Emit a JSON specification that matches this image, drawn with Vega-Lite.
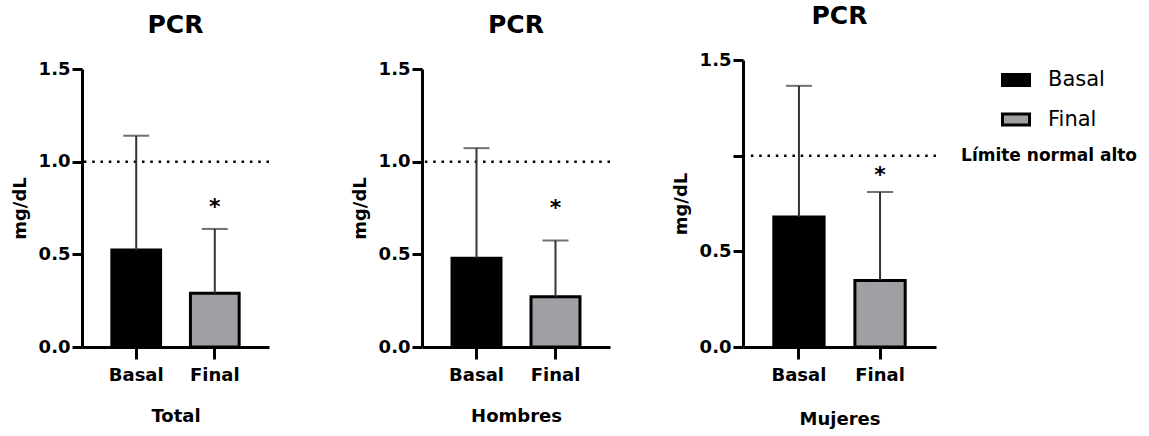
{
  "$schema": "https://vega.github.io/schema/vega-lite/v6.json",
  "background": "white",
  "padding": {"left": 11, "top": 4, "right": 5, "bottom": 3},
  "config": {
    "font": "DejaVu Sans",
    "view": {"stroke": null},
    "axis": {
      "domainColor": "black", "domainWidth": 3,
      "tickColor": "black", "tickWidth": 3,
      "labelColor": "black", "labelFontSize": 18, "labelFontWeight": "bold",
      "titleColor": "black", "titleFontSize": 18, "titleFontWeight": "bold",
      "grid": false
    },
    "title": {"fontSize": 25, "fontWeight": "bold", "color": "black", "baseline": "alphabetic"}
  },
  "datasets": {
    "barras": [
      {"grupo": "Total", "cond": "Basal", "media": 0.523, "sup": 1.14},
      {"grupo": "Total", "cond": "Final", "media": 0.29, "sup": 0.637},
      {"grupo": "Hombres", "cond": "Basal", "media": 0.479, "sup": 1.073},
      {"grupo": "Hombres", "cond": "Final", "media": 0.271, "sup": 0.575},
      {"grupo": "Mujeres", "cond": "Basal", "media": 0.68, "sup": 1.365},
      {"grupo": "Mujeres", "cond": "Final", "media": 0.348, "sup": 0.81}
    ],
    "sig": [
      {"grupo": "Total", "cond": "Final", "marca": "*", "pos": 0.785},
      {"grupo": "Hombres", "cond": "Final", "marca": "*", "pos": 0.776},
      {"grupo": "Mujeres", "cond": "Final", "marca": "*", "pos": 0.925}
    ],
    "limite": [
      {"valor": 1.0, "etiqueta": "Límite normal alto"}
    ]
  },
  "bounds": "flush",
  "spacing": 153,
  "resolve": {"scale": {"color": "shared"}, "legend": {"color": "shared"}},
  "hconcat": [
    {
      "width": 187, "height": 287,
      "title": {"text": "PCR", "offset": 22},
      "layer": [
        {
          "data": {"name": "limite"},
          "mark": {"type": "rule", "color": "black", "strokeWidth": 2.5, "strokeDash": [2.5, 5.8]},
          "encoding": {"y": {"field": "valor", "type": "quantitative", "scale": {"domain": [0, 1.5], "range": [287, 9], "nice": false}}}
        },
        {
          "data": {"name": "barras"},
          "transform": [{"filter": "datum.grupo == 'Total'"}],
          "mark": {"type": "bar", "stroke": "black", "strokeWidth": 3},
          "encoding": {
            "x": {"field": "cond", "type": "nominal", "sort": ["Basal", "Final"], "scale": {"padding": 0.38},
                  "axis": {"title": "Total", "labelAngle": 0, "tickSize": 12, "labelPadding": 7, "titlePadding": 23}},
            "y": {"field": "media", "type": "quantitative", "scale": {"domain": [0, 1.5], "range": [287, 9], "nice": false},
                  "axis": {"title": "mg/dL", "values": [0, 0.5, 1, 1.5], "format": ".1f", "tickSize": 10, "labelPadding": 2, "titlePadding": 9}},
            "color": {"field": "cond", "type": "nominal",
                      "scale": {"domain": ["Basal", "Final"], "range": ["#000000", "#a0a0a4"]},
                      "legend": {"title": null, "orient": "none", "legendX": 919, "legendY": 5, "padding": 0,
                                 "symbolType": "M-1,-0.4H1V0.4H-1Z", "symbolSize": 729,
                                 "symbolStrokeColor": "black", "symbolStrokeWidth": 3, "symbolOpacity": 1,
                                 "labelFontSize": 21, "labelFontWeight": "normal", "labelColor": "black",
                                 "labelOffset": 17, "rowPadding": 12.5}}
          }
        },
        {
          "data": {"name": "barras"},
          "transform": [{"filter": "datum.grupo == 'Total'"}],
          "mark": {"type": "rule", "color": "#333333", "strokeWidth": 2},
          "encoding": {
            "x": {"field": "cond", "type": "nominal", "sort": ["Basal", "Final"]},
            "y": {"field": "media", "type": "quantitative"},
            "y2": {"field": "sup"}
          }
        },
        {
          "data": {"name": "barras"},
          "transform": [{"filter": "datum.grupo == 'Total'"}],
          "mark": {"type": "tick", "orient": "horizontal", "color": "#333333", "thickness": 2, "size": 26},
          "encoding": {
            "x": {"field": "cond", "type": "nominal", "sort": ["Basal", "Final"]},
            "y": {"field": "sup", "type": "quantitative"}
          }
        },
        {
          "data": {"name": "sig"},
          "transform": [{"filter": "datum.grupo == 'Total'"}],
          "mark": {"type": "text", "fontSize": 22, "fontWeight": "bold", "color": "black", "baseline": "alphabetic", "dy": 12},
          "encoding": {
            "x": {"field": "cond", "type": "nominal", "sort": ["Basal", "Final"]},
            "y": {"field": "pos", "type": "quantitative"},
            "text": {"field": "marca"}
          }
        }
      ]
    },
    {
      "bounds": "flush",
      "spacing": 133,
      "resolve": {"scale": {"color": "shared"}, "legend": {"color": "shared"}},
      "hconcat": [
        {
          "width": 188, "height": 287,
          "title": {"text": "PCR", "offset": 22},
          "layer": [
            {
              "data": {"name": "limite"},
              "mark": {"type": "rule", "color": "black", "strokeWidth": 2.5, "strokeDash": [2.5, 5.8]},
              "encoding": {"y": {"field": "valor", "type": "quantitative", "scale": {"domain": [0, 1.5], "range": [287, 9], "nice": false}}}
            },
            {
              "data": {"name": "barras"},
              "transform": [{"filter": "datum.grupo == 'Hombres'"}],
              "mark": {"type": "bar", "stroke": "black", "strokeWidth": 3},
              "encoding": {
                "x": {"field": "cond", "type": "nominal", "sort": ["Basal", "Final"], "scale": {"padding": 0.38},
                      "axis": {"title": "Hombres", "labelAngle": 0, "tickSize": 12, "labelPadding": 7, "titlePadding": 23}},
                "y": {"field": "media", "type": "quantitative", "scale": {"domain": [0, 1.5], "range": [287, 9], "nice": false},
                      "axis": {"title": "mg/dL", "values": [0, 0.5, 1, 1.5], "format": ".1f", "tickSize": 10, "labelPadding": 2, "titlePadding": 9}},
                "color": {"field": "cond", "type": "nominal",
                          "scale": {"domain": ["Basal", "Final"], "range": ["#000000", "#a0a0a4"]}}
              }
            },
            {
              "data": {"name": "barras"},
              "transform": [{"filter": "datum.grupo == 'Hombres'"}],
              "mark": {"type": "rule", "color": "#333333", "strokeWidth": 2},
              "encoding": {
                "x": {"field": "cond", "type": "nominal", "sort": ["Basal", "Final"]},
                "y": {"field": "media", "type": "quantitative"},
                "y2": {"field": "sup"}
              }
            },
            {
              "data": {"name": "barras"},
              "transform": [{"filter": "datum.grupo == 'Hombres'"}],
              "mark": {"type": "tick", "orient": "horizontal", "color": "#333333", "thickness": 2, "size": 26},
              "encoding": {
                "x": {"field": "cond", "type": "nominal", "sort": ["Basal", "Final"]},
                "y": {"field": "sup", "type": "quantitative"}
              }
            },
            {
              "data": {"name": "sig"},
              "transform": [{"filter": "datum.grupo == 'Hombres'"}],
              "mark": {"type": "text", "fontSize": 22, "fontWeight": "bold", "color": "black", "baseline": "alphabetic", "dy": 12},
              "encoding": {
                "x": {"field": "cond", "type": "nominal", "sort": ["Basal", "Final"]},
                "y": {"field": "pos", "type": "quantitative"},
                "text": {"field": "marca"}
              }
            }
          ]
        },
        {
          "width": 193, "height": 287,
          "title": {"text": "PCR", "offset": 22},
          "layer": [
            {
              "data": {"name": "limite"},
              "mark": {"type": "rule", "color": "black", "strokeWidth": 2.5, "strokeDash": [2.5, 5.8]},
              "encoding": {"y": {"field": "valor", "type": "quantitative", "scale": {"domain": [0, 1.5], "nice": false}}}
            },
            {
              "data": {"name": "barras"},
              "transform": [{"filter": "datum.grupo == 'Mujeres'"}],
              "mark": {"type": "bar", "stroke": "black", "strokeWidth": 3},
              "encoding": {
                "x": {"field": "cond", "type": "nominal", "sort": ["Basal", "Final"], "scale": {"padding": 0.38},
                      "axis": {"title": "Mujeres", "labelAngle": 0, "tickSize": 12, "labelPadding": 7, "titlePadding": 26}},
                "y": {"field": "media", "type": "quantitative", "scale": {"domain": [0, 1.5], "nice": false},
                      "axis": {"title": "mg/dL", "values": [0, 0.5, 1, 1.5], "labelExpr": "datum.value == 1 ? '' : format(datum.value, '.1f')", "tickSize": 10, "labelPadding": 2, "titlePadding": 9}},
                "color": {"field": "cond", "type": "nominal",
                          "scale": {"domain": ["Basal", "Final"], "range": ["#000000", "#a0a0a4"]}}
              }
            },
            {
              "data": {"name": "barras"},
              "transform": [{"filter": "datum.grupo == 'Mujeres'"}],
              "mark": {"type": "rule", "color": "#333333", "strokeWidth": 2},
              "encoding": {
                "x": {"field": "cond", "type": "nominal", "sort": ["Basal", "Final"]},
                "y": {"field": "media", "type": "quantitative"},
                "y2": {"field": "sup"}
              }
            },
            {
              "data": {"name": "barras"},
              "transform": [{"filter": "datum.grupo == 'Mujeres'"}],
              "mark": {"type": "tick", "orient": "horizontal", "color": "#333333", "thickness": 2, "size": 26},
              "encoding": {
                "x": {"field": "cond", "type": "nominal", "sort": ["Basal", "Final"]},
                "y": {"field": "sup", "type": "quantitative"}
              }
            },
            {
              "data": {"name": "sig"},
              "transform": [{"filter": "datum.grupo == 'Mujeres'"}],
              "mark": {"type": "text", "fontSize": 22, "fontWeight": "bold", "color": "black", "baseline": "alphabetic", "dy": 12},
              "encoding": {
                "x": {"field": "cond", "type": "nominal", "sort": ["Basal", "Final"]},
                "y": {"field": "pos", "type": "quantitative"},
                "text": {"field": "marca"}
              }
            },
            {
              "data": {"name": "limite"},
              "mark": {"type": "text", "fontSize": 17, "fontWeight": "bold", "color": "black", "align": "left", "baseline": "middle", "dx": 81},
              "encoding": {
                "x": {"datum": "Final", "type": "nominal"},
                "y": {"field": "valor", "type": "quantitative"},
                "text": {"field": "etiqueta"}
              }
            }
          ]
        }
      ]
    }
  ]
}
